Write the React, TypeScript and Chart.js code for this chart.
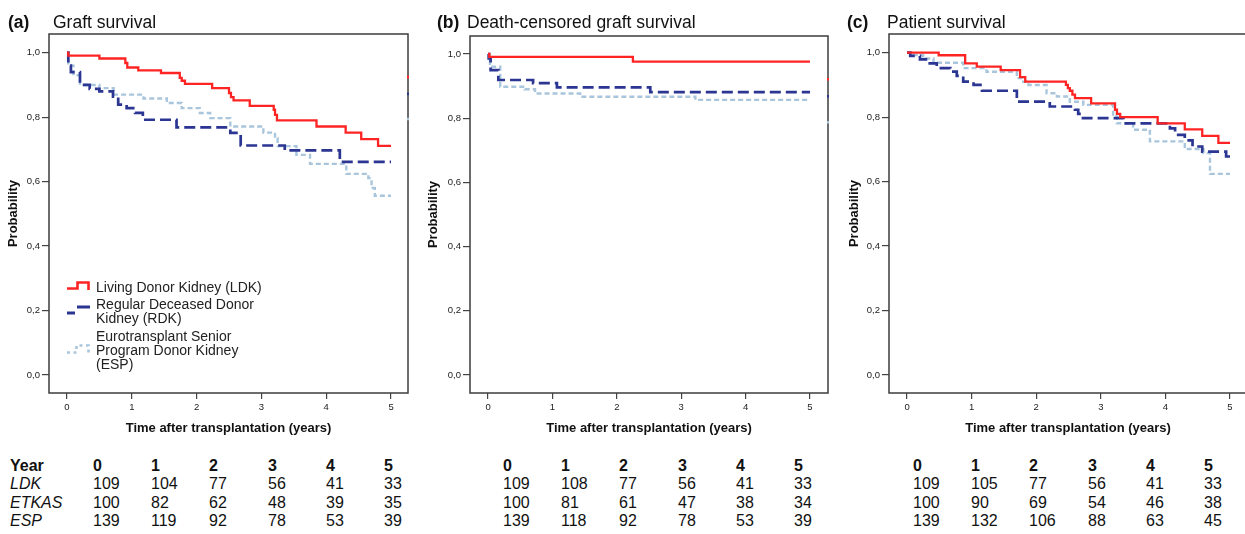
import React, { useEffect, useRef } from 'react';
import { Chart, registerables } from 'chart.js';

Chart.register(...registerables);

const FONT = "'Liberation Sans', Arial, Helvetica, sans-serif";
const RED = '#ff2424';
const NAVY = '#2b3592';
const LIGHT = '#a9c6dd';
const SERIES_COLORS = [RED, NAVY, LIGHT];

// ---------- axis ticks ----------
const X_TICKS = [0, 1, 2, 3, 4, 5];
const Y_TICKS = [0, 0.2, 0.4, 0.6, 0.8, 1.0];

// ---------- (a) Graft survival ----------
const graftLdkT = [0, 0.02, 0.5, 0.9, 0.93, 1.1, 1.45, 1.74, 1.77, 1.82, 2.24, 2.5, 2.53, 2.57, 2.82, 3.19, 3.21, 3.24, 3.85, 4.3, 4.54, 4.8, 5.0];
const graftLdkP = [1.0, 0.991, 0.982, 0.968, 0.954, 0.945, 0.937, 0.922, 0.913, 0.903, 0.89, 0.875, 0.862, 0.852, 0.835, 0.823, 0.807, 0.79, 0.771, 0.752, 0.732, 0.711, 0.711];
const graftRdkT = [0, 0.02, 0.06, 0.2, 0.35, 0.5, 0.71, 0.79, 0.92, 1.05, 1.17, 1.69, 2.52, 2.68, 3.36, 4.21, 5.0];
const graftRdkP = [1.0, 0.96, 0.94, 0.9, 0.888, 0.88, 0.864, 0.839, 0.828, 0.813, 0.792, 0.768, 0.751, 0.712, 0.697, 0.661, 0.661];
const graftEspT = [0, 0.02, 0.1, 0.2, 0.5, 0.72, 1.18, 1.54, 1.77, 2.05, 2.21, 2.52, 3.03, 3.21, 3.25, 3.54, 3.75, 4.31, 4.65, 4.7, 4.75, 5.0];
const graftEspP = [1.0, 0.96, 0.93, 0.9, 0.89, 0.87, 0.858, 0.844, 0.828, 0.813, 0.797, 0.771, 0.752, 0.735, 0.71, 0.683, 0.655, 0.624, 0.611, 0.58, 0.556, 0.556];

// ---------- (b) Death-censored graft survival ----------
const dcLdkT = [0, 0.02, 2.25, 5.0];
const dcLdkP = [1.0, 0.991, 0.976, 0.976];
const dcRdkT = [0, 0.01, 0.04, 0.16, 0.7, 1.07, 2.52, 5.0];
const dcRdkP = [1.0, 0.986, 0.95, 0.919, 0.909, 0.896, 0.881, 0.881];
const dcEspT = [0, 0.03, 0.19, 0.57, 0.73, 1.43, 3.22, 5.0];
const dcEspP = [1.0, 0.96, 0.898, 0.89, 0.877, 0.867, 0.857, 0.857];

// ---------- (c) Patient survival ----------
const patLdkT = [0, 0.49, 0.9, 1.08, 1.45, 1.75, 1.83, 2.46, 2.49, 2.52, 2.56, 2.6, 2.85, 3.22, 3.25, 3.3, 3.88, 4.3, 4.57, 4.82, 5.0];
const patLdkP = [1.0, 0.992, 0.967, 0.957, 0.946, 0.924, 0.91, 0.9, 0.89, 0.882, 0.87, 0.859, 0.843, 0.823, 0.81, 0.8, 0.781, 0.762, 0.742, 0.72, 0.72];
const patRdkT = [0, 0.05, 0.2, 0.33, 0.46, 0.67, 0.77, 0.87, 1.03, 1.16, 1.7, 2.21, 2.6, 2.65, 2.69, 3.35, 4.07, 4.15, 4.3, 4.42, 4.57, 4.94, 5.0];
const patRdkP = [1.0, 0.99, 0.979, 0.967, 0.952, 0.941, 0.928, 0.91, 0.9, 0.882, 0.848, 0.833, 0.823, 0.81, 0.797, 0.781, 0.765, 0.745, 0.728, 0.709, 0.693, 0.678, 0.678];
const patEspT = [0, 0.1, 0.25, 0.41, 0.87, 1.23, 1.7, 1.78, 1.88, 2.16, 2.32, 2.52, 2.73, 3.19, 3.25, 3.5, 3.76, 4.3, 4.59, 4.69, 5.0];
const patEspP = [1.0, 0.993, 0.982, 0.969, 0.952, 0.941, 0.921, 0.91, 0.9, 0.874, 0.864, 0.848, 0.838, 0.802, 0.781, 0.761, 0.725, 0.701, 0.689, 0.624, 0.624];

// ---------- numbers at risk ----------
const riskYears = ['0', '1', '2', '3', '4', '5'];
const riskGroups = ['LDK', 'ETKAS', 'ESP'];
const graftRiskLdk = [109, 104, 77, 56, 41, 33];
const graftRiskEtkas = [100, 82, 62, 48, 39, 35];
const graftRiskEsp = [139, 119, 92, 78, 53, 39];
const dcRiskLdk = [109, 108, 77, 56, 41, 33];
const dcRiskEtkas = [100, 81, 61, 47, 38, 34];
const dcRiskEsp = [139, 118, 92, 78, 53, 39];
const patRiskLdk = [109, 105, 77, 56, 41, 33];
const patRiskEtkas = [100, 90, 69, 54, 46, 38];
const patRiskEsp = [139, 132, 106, 88, 63, 45];

// ---------- legend ----------
const legendLines = [
  ['Living Donor Kidney (LDK)'],
  ['Regular Deceased Donor', 'Kidney (RDK)'],
  ['Eurotransplant Senior', 'Program Donor Kidney', '(ESP)'],
];

// small marks at the right border (panels a, b)
const edgeMarksA = [0.925, 0.873, 0.795];
const edgeMarksB = [0.922, 0.869, 0.788];

const pts = (t: number[], p: number[]) => t.map((x, i) => ({ x, y: p[i] }));

const framePlugin = {
  id: 'frame',
  afterDatasetsDraw(chart: any, _args: any, opts: any) {
    const { ctx, chartArea: a } = chart;
    ctx.save();
    ctx.strokeStyle = '#3c3c3c';
    ctx.lineWidth = 1.5;
    ctx.setLineDash([]);
    ctx.strokeRect(a.left, a.top, a.right - a.left, a.bottom - a.top);
    const ys = chart.scales.y;
    (opts.edgeMarks || []).forEach((v: number, i: number) => {
      ctx.fillStyle = SERIES_COLORS[i];
      ctx.fillRect(a.right - 1, ys.getPixelForValue(v) - 1, 2, 2.5);
    });
    if (opts.legend) {
      const L = a.left;
      ctx.lineCap = 'butt';
      // red step icon
      ctx.strokeStyle = RED;
      ctx.lineWidth = 2.6;
      ctx.beginPath();
      ctx.moveTo(L + 18, 288.5);
      ctx.lineTo(L + 28.5, 288.5);
      ctx.lineTo(L + 28.5, 282.5);
      ctx.lineTo(L + 39.5, 282.5);
      ctx.lineTo(L + 39.5, 290);
      ctx.stroke();
      // navy dashes
      ctx.strokeStyle = NAVY;
      ctx.lineWidth = 3;
      ctx.beginPath();
      ctx.moveTo(L + 18, 313);
      ctx.lineTo(L + 26, 313);
      ctx.moveTo(L + 28, 307);
      ctx.lineTo(L + 41, 307);
      ctx.stroke();
      // light dotted step icon
      ctx.strokeStyle = LIGHT;
      ctx.lineWidth = 2.6;
      ctx.setLineDash([3, 3.5]);
      ctx.beginPath();
      ctx.moveTo(L + 18, 352.5);
      ctx.lineTo(L + 27.5, 352.5);
      ctx.lineTo(L + 27.5, 345.5);
      ctx.lineTo(L + 39.5, 345.5);
      ctx.lineTo(L + 39.5, 353);
      ctx.stroke();
    }
    ctx.restore();
  },
};

type PanelCfg = {
  canvasLeft: number;
  canvasWidth: number;
  canvasHeight: number;
  boxTop: number;
  boxRight: number;
  xMin: number;
  xMax: number;
  yMin: number;
  yMax: number;
  titlePad: number;
  series: { t: number[]; p: number[] }[];
  edgeMarks: number[];
  legend: boolean;
};

const AXIS_W = 49;
const XAXIS_H = 45;

function Panel({ cfg }: { cfg: PanelCfg }) {
  const ref = useRef<HTMLCanvasElement | null>(null);
  useEffect(() => {
    if (!ref.current) return;
    const styles = [
      { borderColor: RED, borderWidth: 2.3, borderDash: [] as number[] },
      { borderColor: NAVY, borderWidth: 2.7, borderDash: [11, 5] },
      { borderColor: LIGHT, borderWidth: 2.4, borderDash: [5, 3] },
    ];
    const chart = new Chart(ref.current, {
      type: 'line',
      data: {
        datasets: cfg.series.map((s, i) => ({
          data: pts(s.t, s.p),
          ...styles[i],
          stepped: true,
          pointRadius: 0,
          fill: false,
          tension: 0,
        })),
      },
      options: {
        animation: false,
        responsive: false,
        devicePixelRatio: 1,
        layout: {
          padding: {
            top: cfg.boxTop,
            left: 0,
            right: cfg.canvasWidth - (cfg.boxRight - cfg.canvasLeft),
            bottom: 0,
          },
        },
        plugins: {
          legend: { display: false },
          tooltip: { enabled: false },
          frame: { edgeMarks: cfg.edgeMarks, legend: cfg.legend },
        } as any,
        scales: {
          x: {
            type: 'linear',
            min: cfg.xMin,
            max: cfg.xMax,
            afterBuildTicks: (s: any) => {
              s.ticks = X_TICKS.map((v) => ({ value: v }));
            },
            afterFit: (s: any) => {
              s.height = XAXIS_H;
            },
            border: { display: false },
            grid: { drawOnChartArea: false, drawTicks: true, tickLength: 6, color: '#444', lineWidth: 1.2 },
            ticks: {
              autoSkip: false,
              maxRotation: 0,
              padding: 3,
              color: '#222',
              font: { size: 9.5, family: FONT },
              callback: (v: any) => String(v),
            },
            title: {
              display: true,
              text: 'Time after transplantation (years)',
              color: '#111',
              font: { size: 13, weight: 'bold', family: FONT },
              padding: { top: 0, bottom: 2 },
            },
          },
          y: {
            type: 'linear',
            min: cfg.yMin,
            max: cfg.yMax,
            afterBuildTicks: (s: any) => {
              s.ticks = Y_TICKS.map((v) => ({ value: v }));
            },
            afterFit: (s: any) => {
              s.width = AXIS_W;
            },
            border: { display: false },
            grid: { drawOnChartArea: false, drawTicks: true, tickLength: 7, color: '#444', lineWidth: 1.2 },
            ticks: {
              autoSkip: false,
              padding: 2,
              color: '#222',
              font: { size: 9.5, family: FONT },
              callback: (v: any) => Number(v).toFixed(1).replace('.', ','),
            },
            title: {
              display: true,
              text: 'Probability',
              color: '#111',
              font: { size: 13, weight: 'bold', family: FONT },
              padding: { top: cfg.titlePad, bottom: 0 },
            },
          },
        },
      },
      plugins: [framePlugin as any],
    });
    return () => chart.destroy();
  }, [cfg]);
  return (
    <canvas
      ref={ref}
      width={cfg.canvasWidth}
      height={cfg.canvasHeight}
      style={{ position: 'absolute', left: cfg.canvasLeft, top: 0, width: cfg.canvasWidth, height: cfg.canvasHeight }}
    />
  );
}

const panelA: PanelCfg = {
  canvasLeft: 0, canvasWidth: 416, canvasHeight: 393 + XAXIS_H, boxTop: 34, boxRight: 408,
  xMin: -0.278, xMax: 5.262, yMin: -0.0558, yMax: 1.058, titlePad: 5.5,
  series: [{ t: graftLdkT, p: graftLdkP }, { t: graftRdkT, p: graftRdkP }, { t: graftEspT, p: graftEspP }],
  edgeMarks: edgeMarksA, legend: true,
};
const panelB: PanelCfg = {
  canvasLeft: 421, canvasWidth: 416, canvasHeight: 393 + XAXIS_H, boxTop: 36, boxRight: 828,
  xMin: -0.28, xMax: 5.28, yMin: -0.056, yMax: 1.056, titlePad: 4.5,
  series: [{ t: dcLdkT, p: dcLdkP }, { t: dcRdkT, p: dcRdkP }, { t: dcEspT, p: dcEspP }],
  edgeMarks: edgeMarksB, legend: false,
};
const panelC: PanelCfg = {
  canvasLeft: 840, canvasWidth: 416, canvasHeight: 393 + XAXIS_H, boxTop: 34, boxRight: 1247,
  xMin: -0.279, xMax: 5.263, yMin: -0.0558, yMax: 1.058, titlePad: 7,
  series: [{ t: patLdkT, p: patLdkP }, { t: patRdkT, p: patRdkP }, { t: patEspT, p: patEspP }],
  edgeMarks: [], legend: false,
};

const abs = (left: number, top: number, extra: React.CSSProperties = {}): React.CSSProperties => ({
  position: 'absolute',
  left,
  top,
  whiteSpace: 'nowrap',
  fontFamily: FONT,
  ...extra,
});

function PanelTitle({ x, labelX, tag, text }: { x: number; labelX: number; tag: string; text: string }) {
  const fs = 17.5;
  const top = 29.3 - fs * 0.8465;
  return (
    <>
      <div style={abs(x, top, { fontSize: fs, lineHeight: `${fs}px`, fontWeight: 'bold', color: '#111' })}>{tag}</div>
      <div style={abs(labelX, top, { fontSize: fs, lineHeight: `${fs}px`, color: '#111' })}>{text}</div>
    </>
  );
}

const ROW_CENTERS = [465.5, 484, 502.5, 521];
const TFS = 16;

function RiskTable({ colX, rows, showLabels }: { colX: number[]; rows: number[][]; showLabels: boolean }) {
  const base: React.CSSProperties = { fontSize: TFS, lineHeight: `${TFS}px`, color: '#111' };
  const topOf = (r: number) => ROW_CENTERS[r] - TFS * 0.4885;
  return (
    <>
      {showLabels && <div style={abs(10, topOf(0), { ...base, fontWeight: 'bold' })}>Year</div>}
      {showLabels &&
        riskGroups.map((g, i) => (
          <div key={g} style={abs(10, topOf(i + 1), { ...base, fontStyle: 'italic' })}>
            {g}
          </div>
        ))}
      {riskYears.map((y, j) => (
        <div key={'h' + y} style={abs(colX[j], topOf(0), { ...base, fontWeight: 'bold' })}>
          {y}
        </div>
      ))}
      {rows.map((row, i) =>
        row.map((v, j) => (
          <div key={`${i}-${j}`} style={abs(colX[j], topOf(i + 1), base)}>
            {v}
          </div>
        ))
      )}
    </>
  );
}

const colsA = [93, 151, 209, 268, 326, 384];
const colsB = [503, 561, 619, 678, 736, 794];
const colsC = [913, 971, 1029, 1088, 1146, 1204];

const legendTops = [[286.7], [304, 318.3], [336, 350, 364]];

export default function App() {
  return (
    <div
      style={{
        position: 'absolute',
        left: 0,
        top: 0,
        width: 1245,
        height: 534,
        overflow: 'hidden',
        background: '#fff',
      }}
    >
      <Panel cfg={panelA} />
      <Panel cfg={panelB} />
      <Panel cfg={panelC} />

      <PanelTitle x={8} labelX={53} tag="(a)" text="Graft survival" />
      <PanelTitle x={437} labelX={467} tag="(b)" text="Death-censored graft survival" />
      <PanelTitle x={847} labelX={887} tag="(c)" text="Patient survival" />

      {legendLines.map((lines, i) =>
        lines.map((ln, k) => (
          <div
            key={`${i}-${k}`}
            style={abs(96, legendTops[i][k] - 6.85, { fontSize: 14, lineHeight: '14px', color: '#222' })}
          >
            {ln}
          </div>
        ))
      )}

      <RiskTable colX={colsA} rows={[graftRiskLdk, graftRiskEtkas, graftRiskEsp]} showLabels={true} />
      <RiskTable colX={colsB} rows={[dcRiskLdk, dcRiskEtkas, dcRiskEsp]} showLabels={false} />
      <RiskTable colX={colsC} rows={[patRiskLdk, patRiskEtkas, patRiskEsp]} showLabels={false} />
    </div>
  );
}
